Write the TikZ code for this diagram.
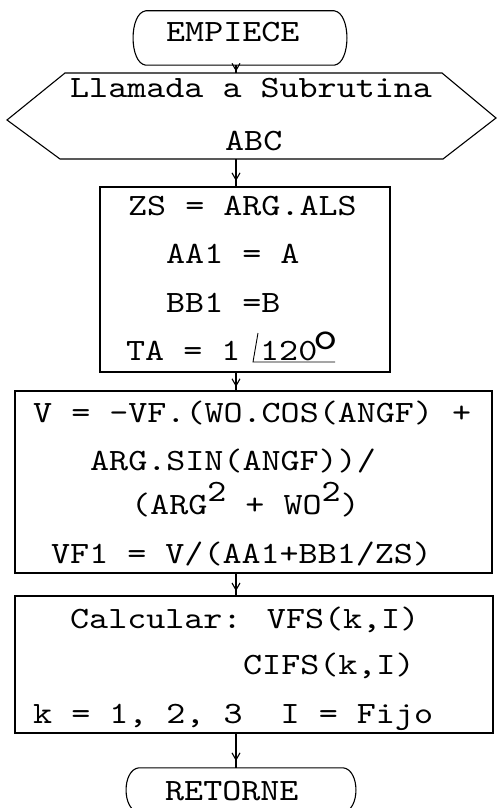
\documentclass[tikz,border=0pt]{standalone}
\usepackage{fontspec}
\newfontfamily\tw{lmmono10-regular.otf}[FakeStretch=1.17]
\usetikzlibrary{decorations.markings,arrows.meta}
\begin{document}
\begin{tikzpicture}[x=1pt,y=-1pt,
  ln/.style={line width=1.1pt},
  txt/.style={anchor=base west,inner sep=0pt,font=\tw\fontsize{31}{38}\selectfont},
  frame/.style={draw,line width=1.1pt,inner sep=0pt},
  ghost/.style={inner sep=0pt},
  flow/.style={line width=1.1pt,postaction={decorate},
    decoration={markings,mark=at position 0.8 with {\arrow{Straight Barb[length=7pt,width=8pt]}}}}]
\useasboundingbox (0,0) rectangle (497,808);

% terminals
\node[ghost, minimum width=216pt, minimum height=54pt] (start) at (240,38) {};
\node[ghost, minimum width=232pt, minimum height=44pt] (stop) at (241,790) {};
\draw[ln] ([xshift=14pt]start.north west) -- ([xshift=-14pt]start.north east)
  .. controls ([xshift=3pt,yshift=-2pt]start.north east) and ([xshift=3pt,yshift=2pt]start.south east) .. ([xshift=-14pt]start.south east)
  -- ([xshift=14pt]start.south west)
  .. controls ([xshift=-3pt,yshift=2pt]start.south west) and ([xshift=-3pt,yshift=-2pt]start.north west) .. cycle;
\draw[ln] ([xshift=14pt]stop.north west) -- ([xshift=-14pt]stop.north east)
  .. controls ([xshift=3pt,yshift=-2pt]stop.north east) and ([xshift=3pt,yshift=2pt]stop.south east) .. ([xshift=-14pt]stop.south east)
  -- ([xshift=14pt]stop.south west)
  .. controls ([xshift=-3pt,yshift=2pt]stop.south west) and ([xshift=-3pt,yshift=-2pt]stop.north west) .. cycle;

% hexagon
\coordinate (hL) at (7,120);
\coordinate (hTL) at (65,73);
\coordinate (hTR) at (442,73);
\coordinate (hR) at (496,118);
\coordinate (hBR) at (443,159);
\coordinate (hBL) at (60,159);
\draw[ln] (hL) -- (hTL) -- (hTR) -- (hR) -- (hBR) -- (hBL) -- cycle;
\coordinate (hin) at (236,73);
\coordinate (hout) at (236,159);

% process boxes
\node[frame, minimum width=290pt, minimum height=185pt] (b2) at (245,279.5) {};
\node[frame, minimum width=477pt, minimum height=182pt] (b3) at (253.5,482) {};
\node[frame, minimum width=478pt, minimum height=137pt] (b4) at (254,664.5) {};

% texts
\node[txt] (t0) at (166,42) {EMPIECE};
\node[txt] (t1) at (70,97) {Llamada a Subrutina};
\node[txt] (t2) at (225,150) {ABC};
\node[txt] (t3) at (128,215) {ZS = ARG.ALS};
\node[txt] (t4) at (166,263) {AA1 = A};
\node[txt] (t5) at (166,312) {BB1 =B};
\node[txt] (t6) at (126,360) {TA = 1};
\node[txt] (t7) at (260,360) {120};
\node[txt, font=\tw\fontsize{40}{44}\selectfont] (t8) at (313,349) {o};
\draw[line width=0.9pt] (258,333) -- (253,362) -- (335,362);
\node[txt] (t9) at (33,422) {V = -VF.(WO.COS(ANGF) +};
\node[txt] (t10) at (90,470) {ARG.SIN(ANGF))/};
\node[txt] (t11) at (131,514) {(ARG\raisebox{13pt}{2} + WO\raisebox{13pt}{2})};
\node[txt] (t12) at (51,563) {VF1 = V/(AA1+BB1/ZS)};
\node[txt] (t13) at (70,628) {Calcular: VFS(k,I)};
\node[txt] (t14) at (243,674) {CIFS(k,I)};
\node[txt] (t15) at (33,723) {k = 1, 2, 3~~I = Fijo};
\node[txt] (t16) at (165,800) {RETORNE};

% connectors
\coordinate (cx) at (236,0);
\draw[flow] (start.south -| cx) -- (hin);
\draw[flow] (hout) -- (b2.north -| cx);
\draw[flow] (b2.south -| cx) -- (b3.north -| cx);
\draw[flow] (b3.south -| cx) -- (b4.north -| cx);
\draw[flow] (b4.south -| cx) -- (stop.north -| cx);
\end{tikzpicture}
\end{document}
